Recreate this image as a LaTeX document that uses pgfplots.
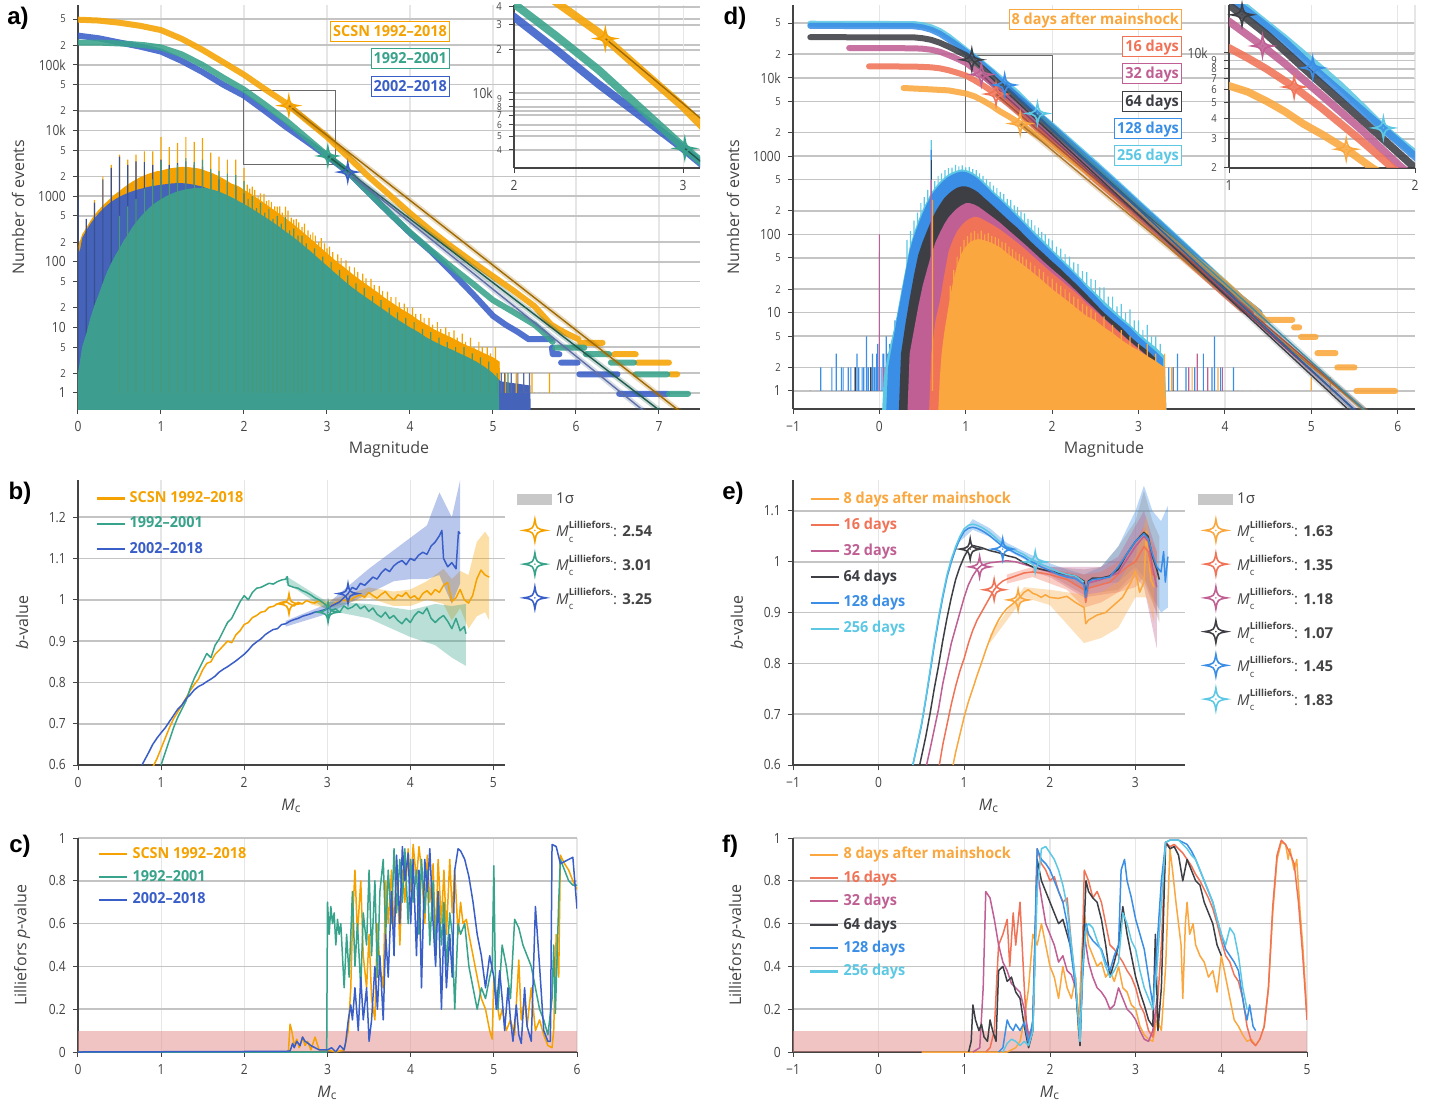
\documentclass[border=0pt]{standalone}
\usepackage{fontspec}
\setmainfont{Open Sans}
\newfontfamily\cond{Open Sans}[FakeStretch=0.86]
\newfontfamily\legf{Open Sans}[FakeStretch=0.95]
\newfontfamily\plfont{Liberation Sans}
\usepackage{pgfplots}
\usepackage{pgfplotstable}
\pgfplotsset{compat=1.18}

\definecolor{cOr}{HTML}{F5A200}
\definecolor{cGr}{HTML}{38A38B}
\definecolor{cBl}{HTML}{3A5EC8}
\definecolor{hBl}{HTML}{4563B8}
\definecolor{hGr}{HTML}{3D9E90}
\definecolor{dA}{HTML}{F9A73E}
\definecolor{dB}{HTML}{F07357}
\definecolor{dC}{HTML}{BF5F93}
\definecolor{dD}{HTML}{3D3F45}
\definecolor{dE}{HTML}{3A8EE6}
\definecolor{dF}{HTML}{5CC8E4}
\definecolor{axc}{HTML}{444444}
\definecolor{grH}{HTML}{C4C4C4}
\definecolor{grV}{HTML}{E6E6E6}
\definecolor{sig}{HTML}{C8C8C8}
\definecolor{bandc}{HTML}{E48A8A}

\newcommand\tk{\cond\fontsize{7}{8}\selectfont}
\newcommand\sm{\fontsize{5.5}{6}\selectfont}
\newcommand\xs{\fontsize{4.8}{5}\selectfont}
\newcommand\lgf{\legf\bfseries\fontsize{7.6}{9}\selectfont}
\newcommand\Mc{\textit{M}\textsubscript{c}}
\newcommand\Ml[1]{\textit{M}\makebox[0pt][l]{\raisebox{-2.6pt}{\fontsize{4.8}{5}\selectfont c}}\raisebox{4.3pt}{\fontsize{4.8}{5}\selectfont\bfseries Lilliefors.}: \textbf{#1}}
\newcommand\tenk{\makebox[0pt][r]{10k\kern4.5pt}}

\pgfdeclareplotmark{astar}{%
  \pgfpathmoveto{\pgfqpoint{0pt}{\pgfplotmarksize}}%
  \pgfpathcurveto{\pgfqpoint{0.15\pgfplotmarksize}{0.15\pgfplotmarksize}}{\pgfqpoint{0.15\pgfplotmarksize}{0.15\pgfplotmarksize}}{\pgfqpoint{\pgfplotmarksize}{0pt}}%
  \pgfpathcurveto{\pgfqpoint{0.15\pgfplotmarksize}{-0.15\pgfplotmarksize}}{\pgfqpoint{0.15\pgfplotmarksize}{-0.15\pgfplotmarksize}}{\pgfqpoint{0pt}{-\pgfplotmarksize}}%
  \pgfpathcurveto{\pgfqpoint{-0.15\pgfplotmarksize}{-0.15\pgfplotmarksize}}{\pgfqpoint{-0.15\pgfplotmarksize}{-0.15\pgfplotmarksize}}{\pgfqpoint{-\pgfplotmarksize}{0pt}}%
  \pgfpathcurveto{\pgfqpoint{-0.15\pgfplotmarksize}{0.15\pgfplotmarksize}}{\pgfqpoint{-0.15\pgfplotmarksize}{0.15\pgfplotmarksize}}{\pgfqpoint{0pt}{\pgfplotmarksize}}%
  \pgfpathclose\pgfusepathqstroke
  \pgfpathcircle{\pgfpointorigin}{0.08\pgfplotmarksize}\pgfusepathqfill
}

\pgfplotsset{
  pan/.style={
    scale only axis, anchor=south west,
    axis x line*=bottom, axis y line*=left,
    axis line style={-, draw=axc, line width=0.75pt},
    tick align=outside, major tick length=2.6pt,
    tick style={draw=axc, line width=0.5pt},
    ticklabel style={font=\tk, text=axc},
    /pgf/number format/assume math mode=true,
    xmajorgrids, ymajorgrids,
    x grid style={draw=grV, line width=0.6pt},
    y grid style={draw=grH, line width=0.8pt},
    label style={font=\fontsize{8}{9.5}\selectfont, text=axc},
    xlabel style={anchor=center}, ylabel style={anchor=center},
    unbounded coords=jump,
  },
  cum/.style={line width=3pt, line cap=round, line join=round, opacity=0.88, forget plot},
  hist/.style={draw=none, fill=#1, forget plot},
  spk/.style={ybar, bar width=0.6pt, bar shift=0pt, draw=none, fill=#1, forget plot},
  fit/.style={line width=0.7pt, #1, forget plot},
  halo/.style={line width=2.6pt, #1, opacity=0.25, forget plot},
  bl/.style={line width=0.75pt, #1, line join=round},
  band/.style={draw=none, fill=#1, fill opacity=0.35, forget plot},
  star/.style={only marks, mark=astar, mark size=#1, line width=0.8pt, forget plot},
  lgline/.style={legend cell align=left,
    legend image code/.code={\draw[##1, line width=1.1pt, opacity=1] (0pt,0pt) -- (14pt,0pt);}},
  lgsty/.style={legend style={at={(#1)}, anchor=north west, draw=none, fill=none,
    font=\lgf, row sep=1.7pt, inner sep=0pt}},
  starleg/.style={hide axis, scale only axis, width=10pt, height=10pt,
    xmin=0, xmax=1, ymin=0, ymax=1, anchor=north west, legend cell align=left,
    legend style={at={(0,1)}, anchor=north west, draw=none, fill=none,
    font=\fontsize{7.5}{9}\selectfont, text=axc, row sep=3.4pt, inner sep=0pt}},
}

% cumulative distributions, panel a
\pgfplotstableread{
x y
0 4.9e5
0.25 4.75e5
0.5 4.4e5
0.75 3.95e5
1 3.4e5
1.25 2.5e5
1.5 1.7e5
1.75 1.1e5
2 7.1e4
2.25 4.3e4
2.5 2.65e4
2.75 1.45e4
3 8000
3.25 4000
3.5 2000
3.75 1050
4 550
4.25 300
4.5 170
4.75 100
5 60
5.25 36
5.5 21
5.7 11
5.85 8.5
6.03 6.6
6.03 nan
6.05 5.8
6.32 5.8
6.32 nan
6.46 3.9
6.72 3.9
6.72 nan
6.74 2.9
7.12 2.9
7.12 nan
7.14 1.93
7.22 1.93
}\aOr
\pgfplotstableread{
x y
0 2.2e5
0.3 2.18e5
0.6 2.1e5
0.8 2.0e5
1 1.85e5
1.25 1.45e5
1.5 1.0e5
1.75 6.4e4
2 4.2e4
2.25 2.5e4
2.5 1.45e4
2.75 7800
3 4200
3.25 2400
3.5 1150
3.75 560
4 280
4.25 150
4.5 83
4.75 47
5 26
5.25 17
5.5 11
5.65 7.5
5.72 6
5.72 nan
5.75 4.9
6.1 4.9
6.1 nan
6.12 3.9
6.4 3.9
6.4 nan
6.42 2.9
6.7 2.9
6.7 nan
6.72 1.93
7.1 1.93
7.1 nan
7.12 0.97
7.35 0.97
}\aGr
\pgfplotstableread{
x y
0 2.8e5
0.25 2.55e5
0.5 2.2e5
0.75 1.9e5
1 1.6e5
1.25 1.15e5
1.5 7.8e4
1.75 5.0e4
2 3.4e4
2.25 2.0e4
2.5 1.15e4
2.75 6900
3 4100
3.25 2330
3.5 1140
3.75 555
4 275
4.25 145
4.5 70
4.75 33
5 15
5.15 11
5.3 8.5
5.43 6.6
5.7 6.6
5.7 nan
5.71 4.9
5.72 3.9
5.8 3.9
5.8 nan
5.82 2.9
6.02 2.9
6.02 nan
6.04 1.93
6.5 1.93
6.5 nan
6.52 0.97
7.1 0.97
}\aBl

% cumulative distributions, panel d
\pgfplotstableread{
x y
-0.8 4.9e4
0.4 4.85e4
0.5 4.7e4
0.6 4.4e4
0.7 3.95e4
0.8 3.35e4
0.9 2.75e4
1.0 2.25e4
1.1 1.85e4
1.2 1.5e4
1.3 1.22e4
1.4 9800
1.5 7900
1.6 6300
1.7 4900
1.83 3500
2 2450
2.25 1400
2.5 800
2.75 450
3 250
3.25 140
3.5 78
3.75 43
4 24
4.2 15
4.4 10
}\dFt
\pgfplotstableread{
x y
-0.8 4.6e4
0.4 4.55e4
0.5 4.4e4
0.6 4.1e4
0.7 3.65e4
0.8 3.1e4
0.9 2.6e4
1.0 2.15e4
1.1 1.78e4
1.2 1.45e4
1.3 1.17e4
1.45 8100
1.6 5800
1.8 3700
2 2350
2.25 1330
2.5 760
2.75 430
3 240
3.25 135
3.5 75
3.75 42
4 23
4.2 15
4.4 10
}\dEt
\pgfplotstableread{
x y
-0.8 3.3e4
0.4 3.28e4
0.5 3.2e4
0.6 3.05e4
0.7 2.8e4
0.8 2.5e4
0.9 2.2e4
1.0 1.95e4
1.07 1.7e4
1.2 1.3e4
1.4 8100
1.6 5100
1.8 3200
2 2000
2.25 1130
2.5 640
2.75 360
3 200
3.25 115
3.5 65
3.75 37
4 21
4.2 14
4.3 11
}\dDt
\pgfplotstableread{
x y
-0.35 2.4e4
0.4 2.38e4
0.5 2.35e4
0.6 2.28e4
0.7 2.15e4
0.8 1.95e4
0.9 1.75e4
1.0 1.55e4
1.1 1.28e4
1.18 1.1e4
1.3 8600
1.5 5500
1.7 3500
1.92 2050
2.25 1000
2.5 560
2.75 320
3 180
3.25 100
3.5 57
3.75 32
4 18
4.2 12
4.3 10
}\dCt
\pgfplotstableread{
x y
-0.12 1.4e4
0.4 1.39e4
0.6 1.36e4
0.7 1.32e4
0.8 1.25e4
0.9 1.16e4
1.0 1.07e4
1.1 9300
1.2 8000
1.35 6200
1.5 4600
1.7 3000
1.88 2000
2.25 900
2.5 500
2.75 290
3 165
3.25 95
3.5 53
3.75 30
4 17
4.2 11
4.3 9.5
}\dBt
\pgfplotstableread{
x y
0.28 7400
0.5 7200
0.6 7100
0.8 6900
1.0 6300
1.1 5800
1.2 5100
1.3 4400
1.4 3700
1.5 3200
1.63 2600
1.77 2000
2 1400
2.25 850
2.5 520
2.75 310
3 185
3.25 110
3.5 66
3.75 40
4 24
4.2 15
4.35 11
4.46 8.1
4.78 8.1
4.78 nan
4.8 6.5
4.86 6.5
4.86 nan
4.88 4.9
5.05 4.9
5.05 nan
5.07 3.05
5.28 3.05
5.28 nan
5.3 2
5.5 2
5.5 nan
5.52 1
5.97 1
}\dAt

\begin{document}
\begin{tikzpicture}
\path[use as bounding box] (0,0) rectangle (719.5pt,-553.5pt);

%================ a) =================
\begin{axis}[pan, at={(39pt,-204.5pt)}, width=311pt, height=202pt,
  ymode=log, xmin=0, xmax=7.494, ymin=0.57, ymax=8.2e5,
  xtick={0,...,7},
  ytick={1,2,5,10,20,50,100,200,500,1000,2000,5000,10000,20000,50000,100000,200000,500000},
  yticklabels={1,\sm2,\sm5,10,\sm2,\sm5,100,\sm2,\sm5,1000,\sm2,\sm5,10k,\sm2,\sm5,100k,\sm2,\sm5},
  xlabel={Magnitude}, ylabel={Number of events},
  xlabel style={at={(axis description cs:0.5,-0.099)}},
  ylabel style={at={(axis description cs:-0.0965,0.5)}}]
% histograms
\addplot[hist=cOr] coordinates {(0,0.1)(0,170)(0.05,260)(0.1,330)(0.15,420)(0.2,520)(0.25,620)(0.3,720)(0.35,830)(0.4,950)(0.45,1080)(0.5,1200)(0.55,1350)(0.6,1500)(0.65,1650)(0.7,1800)(0.75,1950)(0.8,2080)(0.85,2200)(0.9,2300)(0.95,2400)(1,2450)(1.05,2550)(1.1,2650)(1.15,2700)(1.2,2750)(1.25,2800)(1.3,2800)(1.35,2750)(1.4,2700)(1.45,2650)(1.5,2550)(1.55,2400)(1.6,2300)(1.65,2150)(1.7,2000)(1.75,1850)(1.8,1700)(1.85,1550)(1.9,1480)(1.95,1380)(2,1250)(2.1,1050)(2.2,860)(2.3,700)(2.4,570)(2.5,460)(2.6,370)(2.7,290)(2.8,225)(2.9,175)(3,135)(3.1,105)(3.2,84)(3.3,66)(3.4,53)(3.5,43)(3.6,35)(3.7,28)(3.8,23)(3.9,19)(4,16)(4.1,13)(4.2,11)(4.3,9.2)(4.4,8)(4.5,7)(4.6,6)(4.7,5.2)(4.8,4.6)(4.9,4)(5,3.5)(5.08,3)(5.1,0.1)};
\addplot[spk=cOr] coordinates {(0.2,870)(0.3,2000)(0.4,3000)(0.5,4300)(0.6,3600)(0.7,4300)(0.8,4800)(0.9,4800)(1.0,8000)(1.1,5600)(1.2,6500)(1.3,8000)(1.4,6700)(1.5,7700)(1.6,4600)(1.7,4000)(1.8,3600)(1.9,3600)(2.0,2700)(2.1,1400)(2.2,1100)(2.3,870)(2.4,690)(2.5,690)(2.6,440)(2.7,340)(2.8,260)(2.9,200)(3.0,160)
(2.04,1500)(2.07,1300)(2.13,1250)(2.17,1000)(2.24,1080)(2.27,850)(2.33,820)(2.37,700)(2.43,700)(2.46,560)(2.53,600)(2.57,470)(2.63,450)(2.66,400)(2.73,380)(2.77,300)(2.83,280)(2.86,250)(2.93,230)(2.97,190)(3.03,170)(3.07,140)(3.13,130)(3.17,115)(3.23,105)(3.27,85)(3.33,82)(3.37,70)(3.43,66)(3.47,56)(3.53,55)(3.57,44)(3.63,43)(3.67,36)(3.73,35)(3.77,29)(3.83,29)(3.87,24)(3.93,23)(3.97,20)(4.03,20)(4.07,16)(4.13,16)(4.17,14)(4.23,14)(4.27,11)(4.33,12)(4.37,9.5)(4.43,10)(4.47,8.5)(4.53,9)(4.57,7)(4.63,8)(4.67,6)(4.73,7)(4.77,5)(4.83,6)(4.87,5)(4.93,5)(4.97,4)(5.03,5)(5.07,3)};
\addplot[hist=hBl] coordinates {(0,0.1)(0,170)(0.02,140)(0.05,230)(0.1,300)(0.15,380)(0.2,460)(0.25,550)(0.3,640)(0.35,730)(0.4,820)(0.45,900)(0.5,980)(0.55,1050)(0.6,1120)(0.65,1180)(0.7,1240)(0.75,1290)(0.8,1340)(0.85,1390)(0.9,1430)(0.95,1460)(1,1490)(1.05,1520)(1.1,1550)(1.15,1570)(1.2,1580)(1.25,1580)(1.3,1560)(1.35,1530)(1.4,1490)(1.5,1400)(1.6,1250)(1.7,1100)(1.8,950)(1.9,800)(2,680)(2.2,480)(2.4,320)(2.6,170)(2.8,100)(3,60)(3.2,38)(3.4,25)(3.6,16)(3.8,11)(4,7.5)(4.2,5)(4.4,4)(4.6,3)(4.8,2.2)(5,1.8)(5.1,1.5)(5.45,1.3)(5.46,0.1)};
\addplot[spk=hBl!80!black] coordinates {(0.0,870)(0.1,450)(0.2,800)(0.3,1800)(0.4,2700)(0.5,4000)(0.6,3000)(0.7,3400)(0.8,3300)(0.9,3000)(1.0,3600)(1.1,3000)(1.2,3200)(1.3,3400)(1.4,3000)(1.5,2800)(1.6,2200)(1.7,1800)(1.8,1600)(1.9,1400)(2.0,1100)};
\addplot[hist=hGr] coordinates {(0,0.1)(0,2)(0.05,5)(0.1,8)(0.15,14)(0.2,22)(0.25,32)(0.3,48)(0.35,70)(0.4,95)(0.45,125)(0.5,160)(0.55,210)(0.6,260)(0.65,330)(0.7,400)(0.75,480)(0.8,560)(0.85,650)(0.9,740)(0.95,820)(1,900)(1.05,980)(1.1,1050)(1.15,1120)(1.2,1180)(1.25,1230)(1.3,1270)(1.35,1300)(1.4,1330)(1.45,1340)(1.5,1340)(1.55,1320)(1.6,1280)(1.65,1230)(1.7,1170)(1.75,1100)(1.8,1030)(1.85,960)(1.9,890)(1.95,820)(2,760)(2.1,640)(2.2,530)(2.3,440)(2.4,360)(2.5,290)(2.6,235)(2.7,185)(2.8,145)(2.9,112)(3,87)(3.1,67)(3.2,52)(3.3,41)(3.4,33)(3.5,27)(3.6,22)(3.7,18)(3.8,14.5)(3.9,12)(4,10)(4.1,8.5)(4.2,7)(4.3,6)(4.4,5.2)(4.5,4.6)(4.6,4)(4.7,3.5)(4.8,3)(4.9,2.5)(5,2)(5.07,1.6)(5.08,0.1)};
\addplot[spk=hGr!85!olive] coordinates {(0.5,500)(0.6,700)(0.7,900)(0.8,1300)(0.9,1800)(1.0,3400)(1.1,2600)(1.2,3000)(1.3,3800)(1.4,3300)(1.5,3600)(1.6,2600)(1.7,2400)(1.8,2200)(1.9,2100)(2.0,1700)(2.1,1000)(2.2,800)(2.3,640)(2.4,500)(2.5,480)(2.6,320)(2.7,250)
(2.05,900)(2.15,660)(2.25,560)(2.35,450)(2.45,380)(2.55,300)(2.65,250)(2.75,190)(2.85,160)(2.95,120)(3.05,100)(3.15,75)(3.25,62)(3.35,47)(3.45,40)(3.55,30)(3.65,26)(3.75,20)(3.85,17)(3.95,14)(4.05,12)(4.15,9.5)(4.25,8.5)(4.35,7)(4.45,6)(4.55,5)(4.65,5)(4.75,4)(4.85,3.5)(4.95,3)(5.05,2)};
\addplot[spk=cOr] coordinates {(5.15,2)(5.2,1)(5.28,2)(5.33,1)(5.4,1)(5.47,2)(5.52,1)(5.6,1)(5.68,2)(5.72,1)(5.78,1)(5.85,1)(5.95,1)(6.1,1)(6.3,1)(6.6,1)(6.9,1)(7.1,1)(7.2,1)(7.3,1)};
\addplot[spk=hGr!70!olive] coordinates {(5.12,1)(5.18,2)(5.25,1)(5.35,1)(5.5,1)(5.57,1)(5.65,1)(5.75,1)(5.8,1)(6.0,1)(6.2,1)(6.7,1)(7.3,1)};
\addplot[spk=hBl!75!gray] coordinates {(5.1,2)(5.14,2)(5.22,2)(5.3,2)(5.37,2)(5.44,2)(5.5,1)(5.55,1)(5.62,1)(5.72,1)(5.9,1)(6.05,1)(6.4,1)(6.6,1)(6.9,1)(7.0,1)};
\draw[axc!80, line width=0.5pt] (axis cs:2,2990) rectangle (axis cs:3.1,41200);
% cumulative counts
\addplot[cum, cOr] table {\aOr};
\addplot[cum, cBl] table {\aBl};
\addplot[cum, cGr] table {\aGr};
% fits
\addplot[halo=cOr!70!black] coordinates {(2.54,2.4e4)(7.3,0.47)};
\addplot[fit=cOr!65!black] coordinates {(2.54,2.4e4)(7.3,0.47)};
\addplot[halo=cGr!60!black] coordinates {(3.01,4100)(7.1,0.44)};
\addplot[fit=cGr!55!black] coordinates {(3.01,4100)(7.1,0.44)};
\addplot[halo=cBl!50!gray] coordinates {(3.25,2330)(6.95,0.39)};
\addplot[fit=cBl!50!gray] coordinates {(3.25,2330)(6.95,0.39)};
\addplot[star=4.6pt, cOr] coordinates {(2.54,2.4e4)};
\addplot[star=4.6pt, cGr] coordinates {(3.01,4100)};
\addplot[star=4.6pt, cBl] coordinates {(3.25,2330)};
\end{axis}

% inset a
\begin{axis}[pan, at={(257pt,-84pt)}, width=93pt, height=81.5pt,
  ymode=log, xmin=2, xmax=3.1, ymin=2990, ymax=41200,
  xtick={2,3}, ytick={4000,5000,6000,7000,8000,9000,10000,20000,30000,40000},
  yticklabels={\xs4,\xs5,\xs6,\xs7,\xs8,\xs9,\tenk,\sm2,\sm3,\sm4}]
\addplot[cum, cOr, line width=4pt] table {\aOr};
\addplot[cum, cBl, line width=4pt] table {\aBl};
\addplot[cum, cGr, line width=4pt] table {\aGr};
\addplot[fit=cOr!65!black] coordinates {(2.54,2.4e4)(7.3,0.47)};
\addplot[fit=cGr!55!black] coordinates {(3.01,4100)(7.1,0.44)};
\addplot[star=5pt, cOr] coordinates {(2.54,2.4e4)};
\addplot[star=5pt, cGr] coordinates {(3.01,4100)};
\end{axis}

%================ d) =================
\begin{axis}[pan, at={(396.5pt,-204.5pt)}, width=311pt, height=202pt,
  ymode=log, xmin=-1, xmax=6.2, ymin=0.589, ymax=8.5e4,
  xtick={-1,...,6}, xticklabels={−1,0,1,2,3,4,5,6},
  ytick={1,2,5,10,20,50,100,200,500,1000,2000,5000,10000,20000,50000},
  yticklabels={1,\sm2,\sm5,10,\sm2,\sm5,100,\sm2,\sm5,1000,\sm2,\sm5,10k,\sm2,\sm5},
  xlabel={Magnitude}, ylabel={Number of events},
  xlabel style={at={(axis description cs:0.5,-0.099)}},
  ylabel style={at={(axis description cs:-0.0965,0.5)}}]
\addplot[spk=dE] coordinates {(-0.8,1)(-0.72,1)(-0.68,2)(-0.65,1)(-0.62,1)(-0.58,1)(-0.55,2)(-0.5,3)(-0.47,1)(-0.44,2)(-0.42,2)(-0.38,1)(-0.36,2)(-0.33,2)(-0.3,1)(-0.28,2)(-0.26,3)(-0.24,2)(-0.22,1)(-0.2,2)(-0.18,2)(-0.15,5)(-0.13,2)(-0.12,1)(-0.1,2)(-0.08,3)(-0.06,2)(-0.05,2)(-0.03,3)(-0.02,4)(0.0,2)(0.02,2)(0.04,3)(0.05,3)(0.07,2)(0.08,5)(0.1,2)(0.12,4)(0.14,3)(0.15,3)(0.18,8)(0.2,6)(0.22,4)(0.25,10)(0.28,12)(0.3,9)
(3.35,2)(3.45,3)(3.5,1)(3.55,2)(3.65,2)(3.75,3)(3.85,2)(3.88,5)(3.95,2)(4.1,2)(4.2,1)(4.38,1)};
\addplot[spk=dD] coordinates {(-0.8,1)(-0.45,1)(-0.28,2)(-0.1,2)(0.1,3)(0.2,4)(3.4,2)(3.6,1)(3.7,1)(3.8,1)(3.9,1)(4.0,1)(4.15,1)(4.3,1)};
\addplot[spk=dC] coordinates {(-0.35,1)(-0.2,1)(0.05,2)(0.15,2)(3.3,2)(3.42,1)(3.58,2)(3.68,3)(3.8,2)(3.97,2)};
\addplot[spk=dA] coordinates {(3.38,2)(3.48,1)(3.62,2)(3.72,1)(3.82,1)(3.92,2)(4.05,1)(4.12,1)(4.75,1)(4.8,1)(4.85,1)(5.0,1.5)(5.22,1.5)(5.9,1)};
\addplot[hist=dF] coordinates {(0.0,0.1)(0.05,1.5)(0.1,3)(0.15,5)(0.2,9)(0.25,18)(0.3,35)(0.35,68)(0.4,105)(0.45,150)(0.5,205)(0.55,265)(0.6,340)(0.65,405)(0.7,470)(0.75,530)(0.8,585)(0.85,625)(0.9,655)(0.95,675)(1,665)(1.05,635)(1.1,595)(1.15,540)(1.2,480)(1.25,425)(1.3,370)(1.4,295)(1.5,232)(1.6,180)(1.7,138)(1.8,106)(1.9,83)(2,64)(2.1,50)(2.2,39)(2.3,30)(2.4,23)(2.5,18)(2.6,14)(2.7,11)(2.8,8.7)(2.9,7)(3,5.5)(3.1,4.4)(3.2,3.6)(3.3,2.8)(3.35,0.1)};
\addplot[spk=dF] coordinates {(0.6,1600)(0.32,85)(0.36,110)(0.40,150)(0.44,190)(0.48,250)(0.52,300)(0.56,370)(0.64,480)(0.68,560)(0.72,600)(0.76,660)(0.8,700)(0.84,710)(0.88,770)(0.92,740)(0.96,760)(1.0,720)(1.04,730)(1.08,680)(1.12,660)(1.16,600)(1.2,560)(1.24,510)(1.28,470)(1.32,420)(1.36,390)(1.4,350)(1.44,330)(1.48,285)(1.52,275)(1.56,235)(1.6,225)(1.64,195)(1.68,185)(1.72,158)(1.76,152)(1.8,130)(1.84,122)(1.88,108)(1.92,100)(1.96,88)(2.0,84)(2.05,70)(2.1,66)(2.15,56)(2.2,52)(2.25,44)(2.3,42)(2.35,34)(2.4,33)(2.45,27)(2.5,26)(2.55,21)(2.6,21)(2.65,16)(2.7,16)(2.75,12)(2.8,13)(2.85,10)(2.9,11)(2.95,8)(3.0,8)(3.05,6)(3.1,7)(3.15,5)(3.2,5)(3.25,4)};
\addplot[hist=dE] coordinates {(0.05,0.1)(0.1,2)(0.15,4)(0.2,8)(0.25,16)(0.3,32)(0.35,62)(0.4,95)(0.45,135)(0.5,185)(0.55,245)(0.6,315)(0.65,375)(0.7,435)(0.75,495)(0.8,545)(0.85,585)(0.9,615)(0.95,635)(1,625)(1.05,595)(1.1,555)(1.15,505)(1.2,445)(1.25,395)(1.3,345)(1.4,275)(1.5,216)(1.6,167)(1.7,128)(1.8,98)(1.9,76)(2,59)(2.1,46)(2.2,36)(2.3,28)(2.4,21)(2.5,16.5)(2.6,12.5)(2.7,10)(2.8,8)(2.9,6.5)(3,5)(3.1,4)(3.2,3.2)(3.28,2.6)(3.3,0.1)};
\addplot[spk=dE] coordinates {(0.6,1200)(0.0,60)};
\addplot[hist=dD] coordinates {(0.2,0.1)(0.25,3)(0.3,7)(0.35,15)(0.4,30)(0.45,55)(0.5,80)(0.55,110)(0.6,150)(0.65,195)(0.7,240)(0.75,290)(0.8,330)(0.85,365)(0.9,395)(0.95,410)(1,410)(1.05,395)(1.1,370)(1.15,340)(1.2,300)(1.25,270)(1.3,240)(1.4,190)(1.5,150)(1.6,120)(1.7,92)(1.8,72)(1.9,57)(2,45)(2.1,36)(2.2,28)(2.3,22)(2.4,17)(2.5,13)(2.6,10)(2.7,8)(2.8,6.5)(2.9,5)(3,4)(3.1,3.3)(3.2,2.6)(3.25,0.1)};
\addplot[spk=dD] coordinates {(0.6,900)};
\addplot[hist=dC] coordinates {(0.3,0.1)(0.35,3)(0.4,6)(0.45,12)(0.5,22)(0.55,35)(0.6,55)(0.65,80)(0.7,105)(0.75,135)(0.8,165)(0.85,190)(0.9,215)(0.95,235)(1,250)(1.05,250)(1.1,240)(1.15,225)(1.2,205)(1.3,170)(1.4,140)(1.5,112)(1.6,90)(1.7,72)(1.8,57)(1.9,45)(2,36)(2.1,29)(2.2,23)(2.3,18)(2.4,14)(2.5,11)(2.6,8.5)(2.7,6.8)(2.8,5.4)(2.9,4.3)(3,3.5)(3.1,2.8)(3.18,2.3)(3.2,0.1)};
\addplot[spk=dC] coordinates {(0.6,500)(0.0,100)};
\addplot[hist=dB] coordinates {(0.55,0.1)(0.6,3)(0.65,8)(0.7,14)(0.75,30)(0.8,60)(0.85,85)(0.9,110)(0.95,130)(1,148)(1.05,160)(1.1,168)(1.15,165)(1.2,155)(1.3,135)(1.4,115)(1.5,95)(1.6,78)(1.7,63)(1.8,50)(1.9,40)(2,32)(2.1,26)(2.2,21)(2.3,17)(2.4,13)(2.5,10.5)(2.6,8.3)(2.7,6.6)(2.8,5.3)(2.9,4.2)(3,3.4)(3.1,2.7)(3.15,0.1)};
\addplot[hist=dA] coordinates {(0.65,0.1)(0.7,1.5)(0.72,3)(0.75,5.5)(0.8,12)(0.85,24)(0.9,40)(0.95,57)(1,70)(1.05,80)(1.1,85)(1.15,87)(1.2,85)(1.3,78)(1.4,68)(1.5,55)(1.6,46)(1.7,38)(1.8,31)(1.9,25)(2,20)(2.1,16.5)(2.2,13.5)(2.3,11)(2.4,9)(2.5,8)(2.6,6.5)(2.7,5.5)(2.8,4.5)(2.9,3.8)(3,3.3)(3.1,2.8)(3.2,2.4)(3.3,2)(3.35,0.1)};
\addplot[spk=dA] coordinates {(0.615,275)(0.82,22)(0.86,35)(0.9,52)(0.94,70)(0.98,85)(1.02,95)(1.06,105)(1.1,110)(1.14,102)(1.18,112)(1.22,100)(1.26,104)(1.3,95)(1.34,92)(1.38,88)(1.42,80)(1.46,78)(1.5,70)(1.54,65)(1.58,60)(1.62,56)(1.66,52)(1.7,48)(1.75,44)(1.8,40)(1.85,36)(1.9,33)(1.95,29)(2.0,27)(2.05,24)(2.1,22)(2.15,20)(2.2,18)(2.25,16)(2.3,15)(2.35,13)(2.4,12)(2.45,11)(2.5,10)(2.6,9)(2.7,7)(2.8,6)(2.9,5)(3.0,4)(3.1,4)(3.2,3)(3.3,3)};
\draw[axc!80, line width=0.5pt] (axis cs:1,2000) rectangle (axis cs:2,19500);
\addplot[cum, dF] table {\dFt};
\addplot[cum, dE] table {\dEt};
\addplot[cum, dD] table {\dDt};
\addplot[cum, dC] table {\dCt};
\addplot[cum, dB] table {\dBt};
\addplot[cum, dA] table {\dAt};
\addplot[halo=dA!70!black] coordinates {(1.63,2600)(5.7,0.47)};
\addplot[halo=dB!70!black] coordinates {(1.35,6200)(5.7,0.48)};
\addplot[halo=dC!70!black] coordinates {(1.18,1.1e4)(5.6,0.46)};
\addplot[halo=dD!60] coordinates {(1.07,1.7e4)(5.5,0.49)};
\addplot[halo=dE!70!black] coordinates {(1.45,8100)(5.6,0.45)};
\addplot[halo=dF!70!black] coordinates {(1.83,3500)(5.7,0.47)};
\addplot[fit=dA!70!black] coordinates {(1.63,2600)(5.7,0.47)};
\addplot[fit=dB!70!black] coordinates {(1.35,6200)(5.7,0.48)};
\addplot[fit=dC!70!black] coordinates {(1.18,1.1e4)(5.6,0.46)};
\addplot[fit=dD] coordinates {(1.07,1.7e4)(5.5,0.49)};
\addplot[fit=dE!70!black] coordinates {(1.45,8100)(5.6,0.45)};
\addplot[fit=dF!70!black] coordinates {(1.83,3500)(5.7,0.47)};
\addplot[star=5.3pt, dA] coordinates {(1.63,2600)};
\addplot[star=5.3pt, dB] coordinates {(1.35,6200)};
\addplot[star=5.3pt, dC] coordinates {(1.18,1.1e4)};
\addplot[star=5.3pt, dD] coordinates {(1.07,1.7e4)};
\addplot[star=5.3pt, dE] coordinates {(1.45,8100)};
\addplot[star=5.3pt, dF] coordinates {(1.83,3500)};
\end{axis}

% inset d
\begin{axis}[pan, at={(614.5pt,-84pt)}, width=93pt, height=81.5pt,
  ymode=log, xmin=1, xmax=2, ymin=2000, ymax=19500,
  xtick={1,2}, ytick={2000,3000,4000,5000,6000,7000,8000,9000,10000},
  yticklabels={\sm2,\sm3,\sm4,\sm5,\sm6,\sm7,\sm8,\sm9,\tenk}]
\addplot[cum, dF, line width=3.8pt] table {\dFt};
\addplot[cum, dE, line width=3.8pt] table {\dEt};
\addplot[cum, dD, line width=3.8pt] table {\dDt};
\addplot[cum, dC, line width=3.8pt] table {\dCt};
\addplot[cum, dB, line width=3.8pt] table {\dBt};
\addplot[cum, dA, line width=3.8pt] table {\dAt};
\addplot[star=5.3pt, dA] coordinates {(1.63,2600)};
\addplot[star=5.3pt, dB] coordinates {(1.35,6200)};
\addplot[star=5.3pt, dC] coordinates {(1.18,1.1e4)};
\addplot[star=5.3pt, dD] coordinates {(1.07,1.7e4)};
\addplot[star=5.3pt, dE] coordinates {(1.45,8100)};
\addplot[star=5.3pt, dF] coordinates {(1.83,3500)};
\end{axis}

%================ b) =================
\begin{axis}[pan, at={(39pt,-382.5pt)}, width=213.5pt, height=142.5pt,
  xmin=0, xmax=5.14, ymin=0.6, ymax=1.29,
  xtick={0,...,5}, ytick={0.6,0.7,0.8,0.9,1,1.1,1.2},
  xlabel={\Mc}, ylabel={\textit{b}-value},
  xlabel style={at={(axis description cs:0.5,-0.144)}},
  ylabel style={at={(axis description cs:-0.131,0.5)}},
  lgline, lgsty={0.04,0.975}]
\addplot[band=cOr] coordinates {(2.8,0.999)(3,0.997)(3.5,1.03)(3.8,1.02)(4,1.025)(4.2,1.045)(4.4,1.075)(4.5,1.05)(4.6,1.07)(4.7,1.06)(4.8,1.14)(4.9,1.165)(4.95,1.15)(4.95,0.95)(4.9,0.97)(4.8,0.96)(4.7,0.93)(4.6,0.98)(4.5,0.95)(4.4,0.99)(4.2,1.0)(4,0.985)(3.8,0.985)(3.5,1.005)(3,0.979)(2.8,0.989)};
\addplot[band=cGr] coordinates {(2.5,1.058)(3,0.995)(3.5,0.99)(4,0.975)(4.3,0.99)(4.5,0.985)(4.67,0.99)(4.67,0.84)(4.5,0.86)(4.3,0.89)(4,0.91)(3.5,0.955)(3,0.975)(2.5,1.042)};
\addplot[band=cBl] coordinates {(2.5,0.949)(3,0.99)(3.5,1.075)(3.8,1.12)(4,1.15)(4.2,1.18)(4.35,1.26)(4.5,1.2)(4.6,1.29)(4.6,1.04)(4.5,0.99)(4.35,1.06)(4.2,1.05)(4,1.05)(3.8,1.045)(3.5,1.015)(3,0.966)(2.5,0.935)};
\addplot[bl=cOr] coordinates {(0.9,0.595)(0.95,0.615)(1,0.64)(1.05,0.665)(1.1,0.69)(1.15,0.712)(1.2,0.728)(1.25,0.745)(1.3,0.762)(1.35,0.78)(1.4,0.795)(1.45,0.808)(1.5,0.83)(1.55,0.846)(1.6,0.85)(1.65,0.868)(1.7,0.878)(1.75,0.889)(1.8,0.9)(1.85,0.896)(1.9,0.915)(1.95,0.925)(2,0.94)(2.05,0.945)(2.1,0.957)(2.15,0.962)(2.2,0.97)(2.25,0.972)(2.3,0.982)(2.35,0.984)(2.4,0.99)(2.45,0.994)(2.5,0.996)(2.55,0.99)(2.6,0.985)(2.65,0.994)(2.7,0.99)(2.75,0.998)(2.8,0.994)(2.85,0.992)(2.9,0.998)(2.95,0.992)(3,0.988)(3.05,0.985)(3.1,0.993)(3.15,0.996)(3.2,1)(3.25,0.995)(3.3,1.003)(3.35,1.008)(3.4,1.012)(3.45,1.006)(3.5,1.018)(3.55,1.01)(3.6,1.004)(3.65,1.013)(3.7,1.02)(3.75,1.008)(3.8,1)(3.85,1.012)(3.9,1.008)(3.95,1.018)(4,1.004)(4.05,1.01)(4.1,1)(4.15,1.015)(4.2,1.022)(4.25,1.012)(4.3,1.025)(4.35,1.018)(4.4,1.035)(4.45,1.042)(4.5,0.996)(4.55,1.005)(4.6,1.025)(4.65,1)(4.7,0.992)(4.75,1.01)(4.8,1.05)(4.85,1.072)(4.9,1.06)(4.95,1.055)};
\addlegendentry{\textcolor{cOr}{SCSN 1992–2018}}
\addplot[bl=cGr] coordinates {(1,0.6)(1.05,0.63)(1.1,0.66)(1.15,0.69)(1.2,0.715)(1.25,0.735)(1.3,0.755)(1.35,0.785)(1.4,0.81)(1.45,0.83)(1.5,0.85)(1.55,0.87)(1.6,0.86)(1.65,0.89)(1.7,0.905)(1.75,0.925)(1.8,0.945)(1.85,0.955)(1.9,0.975)(1.95,0.995)(2,1.01)(2.05,1)(2.1,1.018)(2.15,1.028)(2.2,1.03)(2.25,1.035)(2.3,1.04)(2.35,1.038)(2.4,1.044)(2.45,1.048)(2.5,1.05)(2.52,1.056)(2.53,1.035)(2.6,1.03)(2.65,1.028)(2.7,1.022)(2.75,1.018)(2.8,1.012)(2.85,1.005)(2.9,1)(2.95,0.993)(3,0.985)(3.01,0.955)(3.05,0.975)(3.1,0.978)(3.15,0.97)(3.2,0.985)(3.25,0.978)(3.3,0.982)(3.35,0.99)(3.4,0.978)(3.45,0.985)(3.5,0.972)(3.55,0.98)(3.6,0.965)(3.65,0.958)(3.7,0.97)(3.75,0.955)(3.8,0.962)(3.85,0.95)(3.9,0.942)(3.95,0.955)(4,0.945)(4.05,0.962)(4.1,0.972)(4.15,0.966)(4.2,0.98)(4.25,0.955)(4.3,0.945)(4.35,0.955)(4.4,0.962)(4.45,0.948)(4.5,0.93)(4.55,0.955)(4.6,0.925)(4.65,0.935)(4.67,0.918)};
\addlegendentry{\textcolor{cGr}{1992–2001}}
\addplot[bl=cBl] coordinates {(0.77,0.6)(0.85,0.63)(0.9,0.65)(0.95,0.665)(1,0.678)(1.05,0.69)(1.1,0.705)(1.15,0.72)(1.2,0.735)(1.25,0.745)(1.3,0.76)(1.35,0.77)(1.4,0.782)(1.45,0.79)(1.5,0.795)(1.55,0.802)(1.6,0.808)(1.65,0.815)(1.7,0.825)(1.75,0.832)(1.8,0.838)(1.85,0.845)(1.9,0.852)(1.95,0.86)(2,0.868)(2.05,0.878)(2.1,0.89)(2.15,0.898)(2.2,0.905)(2.25,0.915)(2.3,0.922)(2.35,0.928)(2.4,0.93)(2.45,0.94)(2.5,0.942)(2.55,0.948)(2.6,0.952)(2.65,0.955)(2.7,0.96)(2.75,0.963)(2.8,0.966)(2.85,0.97)(2.9,0.972)(2.95,0.975)(3,0.978)(3.05,0.985)(3.1,0.99)(3.15,0.995)(3.2,1.005)(3.25,1.015)(3.3,1.03)(3.35,1.025)(3.4,1.04)(3.45,1.035)(3.5,1.045)(3.55,1.055)(3.6,1.05)(3.65,1.065)(3.7,1.075)(3.75,1.068)(3.8,1.082)(3.85,1.09)(3.9,1.095)(3.95,1.085)(4,1.1)(4.05,1.095)(4.1,1.108)(4.15,1.115)(4.2,1.11)(4.25,1.13)(4.3,1.14)(4.35,1.155)(4.38,1.168)(4.4,1.1)(4.45,1.08)(4.5,1.09)(4.55,1.075)(4.58,1.165)(4.6,1.16)};
\addlegendentry{\textcolor{cBl}{2002–2018}}
\addplot[star=5pt, cOr] coordinates {(2.54,0.99)};
\addplot[star=5pt, cGr] coordinates {(3.01,0.97)};
\addplot[star=5pt, cBl] coordinates {(3.25,1.015)};
\end{axis}
\begin{axis}[starleg, at={(258.5pt,-244pt)}]
\addlegendimage{legend image code/.code={\fill[sig] (0pt,-2.6pt) rectangle (17pt,2.6pt);}}
\addlegendentry{1σ}
\addlegendimage{only marks, mark=astar, mark size=5.5pt, line width=0.8pt, cOr}
\addlegendentry{\Ml{2.54}}
\addlegendimage{only marks, mark=astar, mark size=5.5pt, line width=0.8pt, cGr}
\addlegendentry{\Ml{3.01}}
\addlegendimage{only marks, mark=astar, mark size=5.5pt, line width=0.8pt, cBl}
\addlegendentry{\Ml{3.25}}
\end{axis}

%================ e) =================
\begin{axis}[pan, at={(396.5pt,-382.5pt)}, width=196pt, height=142.5pt,
  xmin=-1, xmax=3.58, ymin=0.6, ymax=1.161,
  xtick={-1,...,3}, xticklabels={−1,0,1,2,3}, ytick={0.6,0.7,0.8,0.9,1,1.1},
  xlabel={\Mc}, ylabel={\textit{b}-value},
  xlabel style={at={(axis description cs:0.5,-0.144)}},
  ylabel style={at={(axis description cs:-0.143,0.5)}},
  lgline, lgsty={0.041,0.975}]
\addplot[band=dE] coordinates {(0.95,1.05)(1.1,1.084)(1.3,1.066)(1.5,1.037)(1.8,1.012)(2.0,0.997)(2.2,0.985)(2.4,0.975)(2.6,0.99)(2.8,1.03)(3.0,1.1)(3.1,1.15)(3.2,1.1)(3.3,1.08)(3.38,1.11)(3.38,0.91)(3.3,0.9)(3.2,0.93)(3.1,0.97)(3.0,0.99)(2.8,0.96)(2.6,0.955)(2.4,0.945)(2.2,0.965)(2.0,0.979)(1.8,0.996)(1.5,1.023)(1.3,1.049)(1.1,1.063)(0.95,1.04)};
\addplot[band=dD!60] coordinates {(2.0,0.99)(2.4,0.985)(2.6,0.99)(2.8,1.03)(3.0,1.08)(3.1,1.14)(3.2,1.08)(3.28,1.05)(3.28,0.88)(3.2,0.92)(3.1,0.96)(3.0,0.98)(2.8,0.945)(2.6,0.94)(2.4,0.935)(2.0,0.974)};
\addplot[band=dC] coordinates {(1.8,1.0)(2.0,0.99)(2.4,0.99)(2.6,0.99)(2.8,1.01)(3.0,1.07)(3.1,1.1)(3.25,1.02)(3.25,0.83)(3.1,0.95)(3.0,0.97)(2.8,0.94)(2.6,0.935)(2.4,0.93)(2.0,0.97)(1.8,0.98)};
\addplot[band=dB] coordinates {(1.5,0.975)(1.8,0.99)(2.2,0.98)(2.4,0.975)(2.6,0.98)(2.8,1.0)(3.0,1.04)(3.1,1.07)(3.25,1.02)(3.25,0.9)(3.1,0.97)(3.0,0.95)(2.8,0.94)(2.6,0.92)(2.4,0.91)(2.2,0.945)(1.8,0.97)(1.5,0.957)};
\addplot[band=dA] coordinates {(1.3,0.856)(1.7,0.95)(2.0,0.945)(2.4,0.935)(2.6,0.94)(2.8,0.96)(3.0,1.01)(3.13,1.09)(3.22,1.0)(3.22,0.88)(3.13,0.93)(3.0,0.93)(2.8,0.87)(2.6,0.85)(2.4,0.84)(2.0,0.915)(1.7,0.93)(1.3,0.84)};
\addplot[bl=dA] coordinates {(0.87,0.6)(0.9,0.625)(0.95,0.66)(1,0.695)(1.05,0.725)(1.1,0.75)(1.15,0.776)(1.2,0.8)(1.25,0.825)(1.3,0.848)(1.35,0.868)(1.4,0.885)(1.45,0.898)(1.5,0.908)(1.55,0.915)(1.6,0.922)(1.65,0.93)(1.7,0.94)(1.75,0.945)(1.8,0.938)(1.85,0.935)(1.9,0.93)(1.95,0.935)(2,0.93)(2.1,0.928)(2.2,0.932)(2.3,0.92)(2.4,0.91)(2.42,0.878)(2.45,0.885)(2.55,0.895)(2.65,0.9)(2.75,0.915)(2.85,0.93)(2.95,0.96)(3,0.982)(3.05,0.94)(3.1,0.96)(3.13,1.06)(3.18,0.965)(3.22,0.95)};
\addlegendentry{\textcolor{dA}{8 days after mainshock}}
\addplot[bl=dB] coordinates {(0.71,0.6)(0.75,0.64)(0.8,0.68)(0.85,0.72)(0.9,0.755)(0.95,0.785)(1,0.81)(1.05,0.84)(1.1,0.865)(1.15,0.885)(1.2,0.9)(1.25,0.915)(1.3,0.93)(1.35,0.945)(1.4,0.955)(1.45,0.962)(1.5,0.966)(1.6,0.972)(1.7,0.978)(1.8,0.98)(1.9,0.978)(2,0.975)(2.1,0.97)(2.2,0.965)(2.3,0.955)(2.4,0.945)(2.42,0.92)(2.45,0.948)(2.6,0.955)(2.7,0.96)(2.8,0.975)(2.9,0.99)(3,1)(3.1,1.03)(3.15,1.02)(3.2,0.975)(3.25,0.97)};
\addlegendentry{\textcolor{dB}{16 days}}
\addplot[bl=dC] coordinates {(0.56,0.6)(0.6,0.63)(0.65,0.67)(0.7,0.71)(0.75,0.76)(0.8,0.8)(0.85,0.84)(0.9,0.87)(0.95,0.9)(1,0.93)(1.05,0.955)(1.1,0.972)(1.15,0.985)(1.2,0.993)(1.3,0.998)(1.4,1)(1.5,1.002)(1.6,1)(1.7,0.995)(1.8,0.99)(1.9,0.985)(2,0.98)(2.2,0.972)(2.4,0.962)(2.42,0.93)(2.45,0.958)(2.6,0.965)(2.8,0.978)(3,1.03)(3.1,1.05)(3.15,1.04)(3.2,0.99)(3.25,0.95)};
\addlegendentry{\textcolor{dC}{32 days}}
\addplot[bl=dD] coordinates {(0.48,0.6)(0.55,0.655)(0.6,0.7)(0.65,0.75)(0.7,0.795)(0.75,0.845)(0.8,0.89)(0.85,0.93)(0.9,0.965)(0.95,0.99)(1,1.01)(1.05,1.025)(1.1,1.032)(1.15,1.03)(1.2,1.028)(1.3,1.022)(1.4,1.018)(1.5,1.012)(1.6,1.008)(1.7,0.998)(1.8,0.99)(1.9,0.985)(2,0.982)(2.1,0.978)(2.2,0.975)(2.3,0.972)(2.4,0.962)(2.42,0.935)(2.45,0.962)(2.5,0.968)(2.6,0.968)(2.7,0.972)(2.8,0.985)(2.9,1.015)(3,1.04)(3.1,1.058)(3.15,1.05)(3.2,1.01)(3.25,0.985)(3.28,0.965)};
\addlegendentry{\textcolor{dD}{64 days}}
\addplot[bl=dE] coordinates {(0.4,0.6)(0.45,0.638)(0.5,0.677)(0.55,0.727)(0.6,0.78)(0.65,0.835)(0.7,0.885)(0.75,0.93)(0.8,0.97)(0.85,1)(0.9,1.025)(0.95,1.045)(1,1.06)(1.05,1.066)(1.1,1.068)(1.15,1.066)(1.2,1.062)(1.25,1.057)(1.3,1.051)(1.35,1.044)(1.4,1.037)(1.45,1.03)(1.5,1.025)(1.55,1.022)(1.6,1.017)(1.65,1.013)(1.7,1.009)(1.75,1.003)(1.8,0.999)(1.85,0.995)(1.9,0.99)(2,0.983)(2.1,0.975)(2.2,0.97)(2.3,0.967)(2.4,0.955)(2.42,0.93)(2.45,0.96)(2.5,0.965)(2.6,0.967)(2.7,0.97)(2.8,0.99)(2.9,1.015)(3,1.04)(3.1,1.055)(3.15,1.045)(3.2,1.015)(3.25,0.99)(3.3,0.98)(3.33,1.02)(3.35,0.96)(3.38,1.01)};
\addlegendentry{\textcolor{dE}{128 days}}
\addplot[bl=dF] coordinates {(0.4,0.6)(0.45,0.64)(0.5,0.68)(0.55,0.73)(0.6,0.785)(0.65,0.84)(0.7,0.89)(0.75,0.935)(0.8,0.975)(0.85,1.005)(0.9,1.03)(0.95,1.05)(1,1.065)(1.05,1.072)(1.1,1.074)(1.15,1.072)(1.2,1.068)(1.25,1.063)(1.3,1.057)(1.35,1.05)(1.4,1.042)(1.45,1.035)(1.5,1.03)(1.55,1.027)(1.6,1.022)(1.65,1.018)(1.7,1.014)(1.75,1.008)(1.8,1.004)(1.85,1)(1.9,0.995)(1.95,0.992)(2,0.988)(2.1,0.98)(2.2,0.975)(2.3,0.972)(2.4,0.96)};
\addlegendentry{\textcolor{dF}{256 days}}
\addplot[star=5.2pt, dA] coordinates {(1.63,0.925)};
\addplot[star=5.2pt, dB] coordinates {(1.35,0.945)};
\addplot[star=5.2pt, dC] coordinates {(1.18,0.99)};
\addplot[star=5.2pt, dD] coordinates {(1.07,1.025)};
\addplot[star=5.2pt, dE] coordinates {(1.45,1.025)};
\addplot[star=5.2pt, dF] coordinates {(1.83,1.0)};
\end{axis}
\begin{axis}[starleg, at={(599pt,-244pt)}]
\addlegendimage{legend image code/.code={\fill[sig] (0pt,-2.6pt) rectangle (17pt,2.6pt);}}
\addlegendentry{1σ}
\addlegendimage{only marks, mark=astar, mark size=5.5pt, line width=0.8pt, dA}
\addlegendentry{\Ml{1.63}}
\addlegendimage{only marks, mark=astar, mark size=5.5pt, line width=0.8pt, dB}
\addlegendentry{\Ml{1.35}}
\addlegendimage{only marks, mark=astar, mark size=5.5pt, line width=0.8pt, dC}
\addlegendentry{\Ml{1.18}}
\addlegendimage{only marks, mark=astar, mark size=5.5pt, line width=0.8pt, dD}
\addlegendentry{\Ml{1.07}}
\addlegendimage{only marks, mark=astar, mark size=5.5pt, line width=0.8pt, dE}
\addlegendentry{\Ml{1.45}}
\addlegendimage{only marks, mark=astar, mark size=5.5pt, line width=0.8pt, dF}
\addlegendentry{\Ml{1.83}}
\end{axis}

%================ c) =================
\begin{axis}[pan, at={(39pt,-526pt)}, width=249.5pt, height=107pt,
  xmin=0, xmax=6, ymin=0, ymax=1,
  xtick={0,...,6}, ytick={0,0.2,0.4,0.6,0.8,1},
  xlabel={\Mc}, ylabel={Lilliefors \textit{p}-value},
  xlabel style={at={(axis description cs:0.5,-0.19)}},
  ylabel style={at={(axis description cs:-0.112,0.5)}},
  lgline, lgsty={0.04,0.977}, legend style={row sep=0.4pt}]
\addplot[draw=none, fill=bandc, fill opacity=0.5, forget plot] coordinates {(0,0)(0,0.1)(6,0.1)(6,0)};
\addplot[bl=cOr] coordinates {(0,0)(2.5,0)(2.53,0.003)(2.55,0.13)(2.57,0.1)(2.6,0.03)(2.63,0.06)(2.66,0.02)(2.7,0.07)(2.73,0.03)(2.76,0.05)(2.8,0.01)(2.85,0.07)(2.9,0.01)(3,0.01)(3.1,0)(3.2,0.01)(3.25,0.1)(3.28,0.3)(3.3,0.6)(3.33,0.85)(3.36,0.55)(3.4,0.8)(3.43,0.45)(3.47,0.3)(3.5,0.55)(3.53,0.25)(3.57,0.15)(3.6,0.6)(3.63,0.4)(3.67,0.3)(3.7,0.8)(3.73,0.6)(3.77,0.85)(3.8,0.55)(3.83,0.9)(3.87,0.5)(3.9,0.85)(3.93,0.7)(3.97,0.95)(4,0.75)(4.03,0.97)(4.07,0.8)(4.1,0.96)(4.13,0.85)(4.17,0.6)(4.2,0.92)(4.23,0.7)(4.27,0.88)(4.3,0.5)(4.33,0.9)(4.37,0.6)(4.4,0.85)(4.43,0.55)(4.47,0.9)(4.5,0.65)(4.53,0.85)(4.57,0.55)(4.6,0.7)(4.63,0.6)(4.67,0.62)(4.7,0.55)(4.75,0.45)(4.8,0.35)(4.85,0.25)(4.9,0.2)(4.95,0.1)(4.98,0.06)(5,0.35)(5.03,0.25)(5.07,0.15)(5.1,0.2)(5.15,0.1)(5.2,0.15)(5.25,0.08)(5.3,0.43)(5.33,0.15)(5.37,0.25)(5.4,0.12)(5.45,0.3)(5.5,0.1)(5.55,0.15)(5.6,0.08)(5.65,0.03)(5.7,0.02)(5.72,0.1)(5.75,0.55)(5.78,0.35)(5.8,0.92)(5.85,0.88)(5.9,0.85)(5.95,0.8)(6,0.76)};
\addlegendentry{\textcolor{cOr}{SCSN 1992–2018}}
\addplot[bl=cGr] coordinates {(0,0)(2.99,0)(3,0.7)(3.02,0.55)(3.04,0.68)(3.06,0.6)(3.08,0.65)(3.1,0.5)(3.12,0.62)(3.14,0.55)(3.16,0.6)(3.18,0.45)(3.2,0.3)(3.23,0.55)(3.26,0.35)(3.3,0.75)(3.33,0.4)(3.36,0.6)(3.4,0.3)(3.43,0.65)(3.47,0.5)(3.5,0.85)(3.53,0.45)(3.57,0.8)(3.6,0.35)(3.63,0.75)(3.67,0.9)(3.7,0.55)(3.73,0.85)(3.77,0.6)(3.8,0.95)(3.83,0.65)(3.87,0.9)(3.9,0.7)(3.93,0.95)(3.97,0.6)(4,0.9)(4.03,0.7)(4.07,0.85)(4.1,0.55)(4.13,0.9)(4.17,0.65)(4.2,0.85)(4.23,0.5)(4.27,0.8)(4.3,0.45)(4.33,0.75)(4.37,0.5)(4.4,0.7)(4.43,0.4)(4.47,0.65)(4.5,0.55)(4.53,0.2)(4.57,0.6)(4.6,0.55)(4.65,0.6)(4.7,0.4)(4.75,0.3)(4.8,0.2)(4.85,0.3)(4.9,0.25)(4.95,0.35)(4.98,0.4)(5,0.87)(5.02,0.3)(5.05,0.2)(5.1,0.5)(5.15,0.4)(5.2,0.25)(5.25,0.62)(5.3,0.58)(5.35,0.5)(5.4,0.45)(5.45,0.4)(5.5,0.3)(5.55,0.2)(5.6,0.15)(5.65,0.08)(5.7,0.25)(5.72,0.5)(5.74,0.18)(5.78,0.7)(5.8,0.9)(5.85,0.85)(5.9,0.8)(5.95,0.78)(6,0.78)};
\addlegendentry{\textcolor{cGr}{1992–2001}}
\addplot[bl=cBl] coordinates {(0,0)(2.5,0.003)(2.55,0.005)(2.58,0.04)(2.6,0.02)(2.63,0.05)(2.67,0.03)(2.7,0.07)(2.73,0.05)(2.77,0.04)(2.8,0.03)(2.85,0.02)(2.9,0.01)(3,0.01)(3.05,0.02)(3.1,0)(3.15,0.03)(3.2,0.01)(3.22,0.05)(3.25,0.15)(3.28,0.22)(3.3,0.15)(3.33,0.3)(3.37,0.1)(3.4,0.35)(3.43,0.15)(3.47,0.3)(3.5,0.05)(3.53,0.15)(3.57,0.4)(3.6,0.2)(3.63,0.45)(3.67,0.15)(3.7,0.55)(3.73,0.35)(3.77,0.75)(3.8,0.45)(3.83,0.92)(3.87,0.6)(3.9,0.96)(3.93,0.8)(3.97,0.93)(4,0.6)(4.03,0.9)(4.07,0.45)(4.1,0.85)(4.13,0.3)(4.17,0.9)(4.2,0.75)(4.23,0.95)(4.27,0.6)(4.3,0.4)(4.33,0.75)(4.37,0.2)(4.4,0.6)(4.43,0.3)(4.47,0.55)(4.5,0.35)(4.53,0.85)(4.57,0.95)(4.6,0.94)(4.65,0.9)(4.7,0.82)(4.75,0.7)(4.8,0.55)(4.85,0.45)(4.9,0.3)(4.95,0.45)(5,0.35)(5.03,0.2)(5.07,0.38)(5.1,0.25)(5.13,0.1)(5.17,0.3)(5.2,0.15)(5.23,0.05)(5.27,0.22)(5.3,0.08)(5.33,0.04)(5.37,0.3)(5.4,0.12)(5.45,0.05)(5.5,0.68)(5.55,0.4)(5.6,0.1)(5.65,0.05)(5.68,0.05)(5.7,0.97)(5.75,0.96)(5.8,0.88)(5.85,0.89)(5.9,0.9)(5.95,0.91)(6,0.67)};
\addlegendentry{\textcolor{cBl}{2002–2018}}
\end{axis}

%================ f) =================
\begin{axis}[pan, at={(396.5pt,-526pt)}, width=257pt, height=107pt,
  xmin=-1, xmax=5, ymin=0, ymax=1,
  xtick={-1,...,5}, xticklabels={−1,0,1,2,3,4,5}, ytick={0,0.2,0.4,0.6,0.8,1},
  xlabel={\Mc}, ylabel={Lilliefors \textit{p}-value},
  xlabel style={at={(axis description cs:0.5,-0.19)}},
  ylabel style={at={(axis description cs:-0.109,0.5)}},
  lgline, lgsty={0.031,0.977}, legend style={row sep=0.4pt}]
\addplot[draw=none, fill=bandc, fill opacity=0.5, forget plot] coordinates {(-1,0)(-1,0.1)(5,0.1)(5,0)};
\addplot[bl=dA] coordinates {(0.5,0)(1.5,0)(1.55,0.01)(1.6,0.02)(1.65,0.05)(1.7,0.15)(1.75,0.3)(1.8,0.55)(1.85,0.5)(1.9,0.6)(1.95,0.5)(2,0.4)(2.05,0.35)(2.1,0.25)(2.15,0.4)(2.2,0.3)(2.25,0.25)(2.3,0.35)(2.33,0.1)(2.37,0.45)(2.4,0.65)(2.45,0.5)(2.5,0.45)(2.55,0.4)(2.6,0.42)(2.65,0.35)(2.7,0.38)(2.75,0.33)(2.8,0.4)(2.85,0.3)(2.9,0.28)(2.95,0.22)(3,0.2)(3.05,0.12)(3.1,0.08)(3.15,0.06)(3.2,0.05)(3.25,0.15)(3.3,0.1)(3.35,0.4)(3.4,0.95)(3.43,0.85)(3.47,0.7)(3.5,0.6)(3.53,0.5)(3.55,0.25)(3.58,0.6)(3.6,0.7)(3.63,0.55)(3.67,0.6)(3.7,0.5)(3.75,0.45)(3.8,0.42)(3.85,0.35)(3.9,0.38)(3.95,0.28)(4,0.45)(4.05,0.35)(4.1,0.25)(4.15,0.15)(4.2,0.12)(4.25,0.08)(4.3,0.05)(4.35,0.06)(4.4,0.03)(4.45,0.06)(4.5,0.12)(4.55,0.3)(4.6,0.65)(4.65,0.9)(4.7,0.98)(4.75,0.97)(4.78,0.9)(4.8,0.95)(4.85,0.85)(4.88,0.9)(4.92,0.65)(4.95,0.5)(5,0.17)};
\addlegendentry{\textcolor{dA}{8 days after mainshock}}
\addplot[bl=dB] coordinates {(1.25,0)(1.3,0.02)(1.35,0.1)(1.38,0.35)(1.4,0.5)(1.45,0.55)(1.5,0.62)(1.53,0.4)(1.57,0.65)(1.6,0.5)(1.65,0.7)(1.7,0.3)(1.73,0.1)(1.77,0.05)(1.8,0.15)(1.83,0.6)(1.85,0.95)(1.9,0.88)(1.95,0.85)(2,0.8)(2.05,0.82)(2.1,0.75)(2.15,0.7)(2.2,0.72)(2.25,0.5)(2.3,0.3)(2.35,0.05)(2.38,0.5)(2.4,0.85)(2.45,0.8)(2.5,0.72)(2.55,0.75)(2.6,0.7)(2.65,0.6)(2.7,0.5)(2.75,0.48)(2.8,0.45)(2.85,0.42)(2.9,0.38)(2.95,0.35)(3,0.3)(3.05,0.22)(3.1,0.18)(3.15,0.1)(3.2,0.07)(3.25,0.2)(3.3,0.5)(3.35,0.98)(3.4,0.96)(3.45,0.97)(3.5,0.95)(3.55,0.93)(3.6,0.9)(3.65,0.87)(3.7,0.83)(3.75,0.8)(3.8,0.76)(3.85,0.72)(3.9,0.67)(3.95,0.6)(4,0.52)(4.05,0.45)(4.1,0.42)(4.15,0.36)(4.2,0.33)(4.25,0.25)(4.3,0.12)(4.35,0.05)(4.4,0.03)(4.45,0.06)(4.5,0.12)(4.55,0.3)(4.6,0.68)(4.65,0.92)(4.7,0.99)(4.75,0.97)(4.8,0.93)(4.85,0.88)(4.9,0.7)(4.95,0.45)(5,0.15)};
\addlegendentry{\textcolor{dB}{16 days}}
\addplot[bl=dC] coordinates {(1.1,0)(1.18,0.02)(1.22,0.3)(1.25,0.75)(1.3,0.72)(1.35,0.62)(1.4,0.5)(1.45,0.42)(1.5,0.38)(1.55,0.32)(1.6,0.3)(1.65,0.28)(1.7,0.2)(1.75,0.08)(1.8,0.12)(1.85,0.85)(1.9,0.72)(1.95,0.6)(2,0.55)(2.05,0.5)(2.1,0.42)(2.15,0.45)(2.2,0.38)(2.25,0.36)(2.3,0.3)(2.35,0.08)(2.4,0.55)(2.45,0.42)(2.5,0.35)(2.55,0.3)(2.6,0.28)(2.65,0.25)(2.7,0.2)(2.75,0.22)(2.8,0.3)(2.85,0.25)(2.9,0.2)(2.95,0.18)(3,0.15)(3.05,0.1)(3.1,0.06)(3.15,0.05)(3.2,0.1)(3.25,0.25)};
\addlegendentry{\textcolor{dC}{32 days}}
\addplot[bl=dD] coordinates {(1.05,0)(1.08,0.05)(1.1,0.22)(1.13,0.15)(1.17,0.1)(1.2,0.13)(1.23,0.07)(1.27,0.05)(1.3,0.15)(1.33,0.1)(1.37,0.05)(1.4,0.38)(1.45,0.4)(1.5,0.33)(1.55,0.35)(1.6,0.28)(1.65,0.25)(1.7,0.12)(1.75,0.02)(1.8,0.1)(1.85,0.9)(1.9,0.8)(1.95,0.75)(2,0.7)(2.05,0.65)(2.1,0.6)(2.15,0.62)(2.2,0.55)(2.25,0.48)(2.3,0.3)(2.35,0.03)(2.38,0.4)(2.42,0.8)(2.45,0.75)(2.5,0.72)(2.55,0.7)(2.6,0.62)(2.65,0.5)(2.7,0.35)(2.75,0.42)(2.8,0.5)(2.85,0.68)(2.9,0.55)(2.95,0.45)(3,0.35)(3.05,0.28)(3.1,0.22)(3.15,0.15)(3.2,0.12)(3.23,0.55)(3.26,0.1)(3.3,0.3)(3.35,0.98)(3.4,0.95)(3.45,0.96)(3.5,0.92)(3.55,0.8)(3.6,0.9)(3.65,0.85)(3.7,0.8)(3.75,0.78)(3.8,0.7)(3.85,0.65)(3.9,0.6)(3.95,0.5)(4,0.45)};
\addlegendentry{\textcolor{dD}{64 days}}
\addplot[bl=dE] coordinates {(1.4,0)(1.45,0.02)(1.5,0.15)(1.53,0.12)(1.57,0.1)(1.6,0.13)(1.65,0.1)(1.7,0.14)(1.75,0.04)(1.8,0.15)(1.85,0.95)(1.9,0.9)(1.95,0.88)(2,0.85)(2.05,0.8)(2.1,0.75)(2.15,0.7)(2.2,0.6)(2.25,0.45)(2.3,0.3)(2.35,0.05)(2.38,0.35)(2.42,0.6)(2.45,0.55)(2.5,0.52)(2.55,0.5)(2.6,0.48)(2.65,0.42)(2.7,0.38)(2.75,0.45)(2.8,0.5)(2.83,0.85)(2.87,0.9)(2.9,0.8)(2.95,0.72)(3,0.62)(3.05,0.55)(3.1,0.48)(3.15,0.35)(3.2,0.22)(3.25,0.5)(3.3,0.8)(3.35,0.98)(3.4,0.99)(3.45,0.99)(3.5,0.99)(3.55,0.98)(3.6,0.97)(3.65,0.94)(3.7,0.9)(3.75,0.85)(3.8,0.8)(3.85,0.75)(3.9,0.7)(3.95,0.62)(4,0.55)(4.05,0.48)(4.1,0.45)(4.15,0.42)(4.2,0.38)(4.23,0.3)(4.27,0.2)(4.3,0.15)(4.33,0.22)(4.37,0.12)(4.4,0.1)};
\addlegendentry{\textcolor{dE}{128 days}}
\addplot[bl=dF] coordinates {(1.45,0)(1.5,0.04)(1.55,0.06)(1.6,0.05)(1.65,0.03)(1.7,0.05)(1.75,0.03)(1.8,0.1)(1.85,0.75)(1.9,0.95)(1.95,0.96)(2,0.93)(2.05,0.9)(2.1,0.85)(2.15,0.78)(2.2,0.68)(2.25,0.5)(2.3,0.33)(2.35,0.05)(2.38,0.4)(2.42,0.58)(2.45,0.6)(2.5,0.58)(2.55,0.52)(2.6,0.47)(2.65,0.4)(2.7,0.35)(2.75,0.38)(2.8,0.42)(2.85,0.65)(2.9,0.6)(2.95,0.52)(3,0.48)(3.05,0.38)(3.1,0.3)(3.15,0.25)(3.2,0.2)(3.25,0.4)(3.3,0.7)(3.35,0.98)(3.4,0.99)(3.5,0.99)(3.55,0.97)(3.6,0.95)(3.65,0.92)(3.7,0.9)(3.75,0.85)(3.8,0.8)(3.85,0.75)(3.9,0.7)(3.95,0.62)(4,0.55)(4.05,0.5)(4.1,0.58)(4.15,0.55)(4.2,0.45)(4.25,0.3)(4.3,0.2)};
\addlegendentry{\textcolor{dF}{256 days}}
\end{axis}

%================ labels and boxed legends =================
\tikzset{pl/.style={font=\plfont\bfseries\fontsize{12}{14}\selectfont, anchor=center},
  bx/.style={draw=#1, text=#1, fill=white, line width=0.5pt, font=\lgf, inner xsep=1.3pt, inner ysep=1.3pt, text height=5.8pt, text depth=1.6pt, anchor=east}}
\node[pl] at (9pt,-9pt) {a)};
\node[pl] at (10pt,-246.5pt) {b)};
\node[pl] at (10pt,-423pt) {c)};
\node[pl] at (367.5pt,-9pt) {d)};
\node[pl] at (366.5pt,-246.5pt) {e)};
\node[pl] at (365pt,-423pt) {f)};
\node[bx=cOr] at (225pt,-16pt) {SCSN 1992–2018};
\node[bx=cGr] at (225pt,-29.5pt) {1992–2001};
\node[bx=cBl] at (225pt,-43.5pt) {2002–2018};
\node[bx=dA] at (591pt,-10pt) {8 days after mainshock};
\node[bx=dB] at (591pt,-23.5pt) {16 days};
\node[bx=dC] at (591pt,-37pt) {32 days};
\node[bx=dD] at (591pt,-51pt) {64 days};
\node[bx=dE] at (591pt,-64.5pt) {128 days};
\node[bx=dF] at (591pt,-78pt) {256 days};
\end{tikzpicture}
\end{document}
